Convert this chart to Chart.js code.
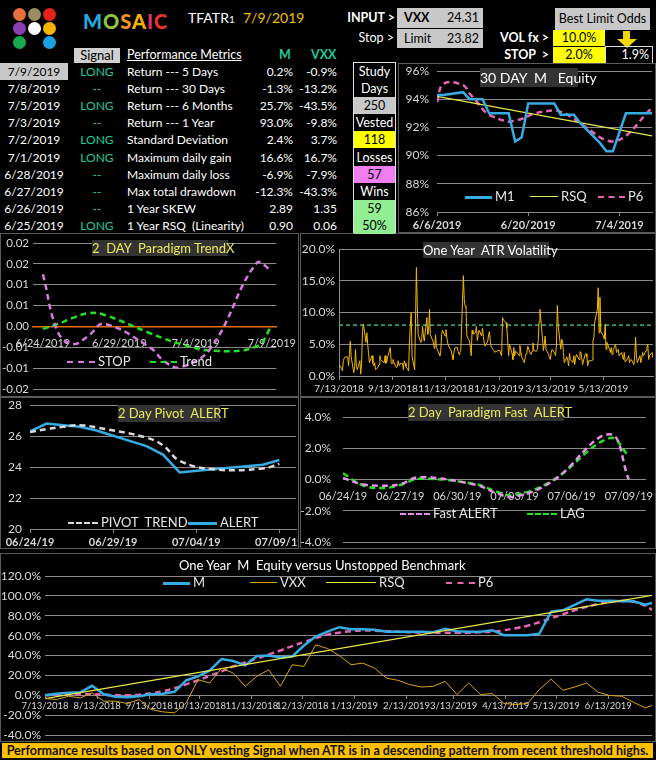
<!DOCTYPE html>
<html lang="en">
<head>
<meta charset="UTF-8">
<title>MOSAIC TFATR1 dashboard</title>
<script src="https://cdn.jsdelivr.net/npm/chart.js"></script>
<style>
  body { margin: 0; background: #000; font-family: Lato, "Open Sans", sans-serif; color: #fff; }
  #page { position: relative; width: 656px; height: 760px; overflow: hidden; background: #000; }
  .a { position: absolute; white-space: pre; line-height: 1; }
  .r { text-align: right; }
  .dot { position: absolute; width: 13px; height: 13px; border-radius: 50%; }
  .box { position: absolute; box-sizing: border-box; font-size: 12.5px; }
  .panel { position: absolute; box-sizing: border-box; border: 1px solid #5a5a5a; background: #000; }
  .title { position: absolute; background: #333; font-size: 13px; text-align: center; white-space: pre; }
  .lg { font-size: 13px; color: #e6e6e6; }
  .cell { font-size: 12px; height: 17px; line-height: 17px; }
</style>
</head>
<body>
<div id="page">
  <!-- logo -->
  <div class="dot" style="left:13px;top:8px;background:#e5703a"></div>
  <div class="dot" style="left:28px;top:8px;background:#9c8e63"></div>
  <div class="dot" style="left:43px;top:8px;background:#e8201c"></div>
  <div class="dot" style="left:13px;top:22px;background:#8b3fb5"></div>
  <div class="dot" style="left:28px;top:22px;background:#ffffff"></div>
  <div class="dot" style="left:43px;top:22px;background:#f4b400"></div>
  <div class="dot" style="left:13px;top:36px;background:#1aa84f"></div>
  <div class="dot" style="left:43px;top:36px;background:#1ba1e2"></div>
  <div class="a" style="left:83px;top:11px;font-size:20px;font-weight:900;letter-spacing:1px"><span style="color:#2aa6df">M</span><span style="color:#8dc63f">O</span><span style="color:#f7941d">S</span><span style="color:#f4b400">A</span><span style="color:#d6336c">I</span><span style="color:#e5322d">C</span></div>
  <div class="a" style="left:188px;top:11px;font-size:14px">TFATR<span style="font-size:10px">1</span></div>
  <div class="a" style="left:243px;top:11px;font-size:14px;color:#f2c200">7/9/2019</div>

  <div class="a r" style="left:330px;width:65px;top:12px;font-size:12.5px;font-weight:bold">INPUT &gt;</div>
  <div class="box" style="left:397px;top:8px;width:86px;height:20px;background:#c8c8c8;color:#000;line-height:20px">
    <span style="position:absolute;left:7px;font-weight:bold">VXX</span><span style="position:absolute;right:4px">24.31</span></div>
  <div class="a r" style="left:330px;width:64px;top:32px;font-size:12.5px">Stop &gt;</div>
  <div class="box" style="left:397px;top:29px;width:86px;height:19px;background:#c8c8c8;color:#000;line-height:19px">
    <span style="position:absolute;left:7px">Limit</span><span style="position:absolute;right:4px">23.82</span></div>

  <div class="box" style="left:555px;top:8px;width:95px;height:22px;background:#c8c8c8;color:#000;line-height:22px;text-align:center">Best Limit Odds</div>
  <div class="a r" style="left:490px;width:59px;top:32px;font-size:12.5px;font-weight:bold">VOL fx &gt;</div>
  <div class="box" style="left:553px;top:30px;width:52px;height:16px;background:#ffff00;color:#000;line-height:16px;text-align:center">10.0%</div>
  <div class="box" style="left:623px;top:31px;width:7px;height:8px;background:#f2d600"></div>
  <div class="box" style="left:617px;top:39px;width:0;height:0;border-left:10px solid transparent;border-right:10px solid transparent;border-top:9px solid #f2d600"></div>
  <div class="a r" style="left:490px;width:59px;top:49px;font-size:12.5px;font-weight:bold">STOP  &gt;</div>
  <div class="box" style="left:553px;top:47px;width:52px;height:16px;background:#ffff00;color:#000;line-height:16px;text-align:center">2.0%</div>
  <div class="box" style="left:605px;top:46px;width:48px;height:18px;border:1px solid #ddd;line-height:16px;text-align:right;padding-right:3px">1.9%</div>

  <!-- table header -->
  <div class="box" style="left:74px;top:48px;width:46px;height:15px;background:#d0d0d0;color:#000;line-height:15px;text-align:center;font-size:13px">Signal</div>
  <div class="a" style="left:127px;top:49px;font-size:12.5px;text-decoration:underline">Performance Metrics</div>
  <div class="a" style="left:279px;top:49px;font-size:12.5px;color:#1fc99a;font-weight:bold">M</div>
  <div class="a" style="left:311px;top:49px;font-size:12.5px;color:#1fc99a;font-weight:bold">VXX</div>
  <div class="box" style="left:353px;top:62px;width:43px;height:171px;border:1px solid #e0e0e0"></div>

  <!-- panels -->
  <div class="panel" style="left:398px;top:63px;width:258px;height:170px"><canvas id="c30"></canvas></div>
  <div class="panel" style="left:0;top:233px;width:299px;height:164px"><canvas id="cTrend"></canvas></div>
  <div class="panel" style="left:300px;top:233px;width:356px;height:164px"><canvas id="cAtr"></canvas></div>
  <div class="panel" style="left:0;top:397px;width:299px;height:152px"><canvas id="cPivot"></canvas></div>
  <div class="panel" style="left:300px;top:397px;width:356px;height:152px"><canvas id="cFast"></canvas></div>
  <div class="panel" style="left:0;top:553px;width:656px;height:189px"><canvas id="cEq"></canvas></div>

  <div class="title" style="left:480px;top:68px;width:98px;height:19px;line-height:19px;font-size:14px">30 DAY  M   Equity</div>
  <div class="title" style="left:92px;top:240px;width:136px;height:16px;line-height:16px;color:#eaea5a">2  DAY  Paradigm TrendX</div>
  <div class="title" style="left:423px;top:242px;width:126px;height:16px;line-height:16px">One Year  ATR Volatility</div>
  <div class="title" style="left:118px;top:405px;width:102px;height:17px;line-height:17px;color:#eaea5a">2 Day Pivot  ALERT</div>
  <div class="title" style="left:408px;top:404px;width:156px;height:17px;line-height:17px;color:#eaea5a">2 Day  Paradigm Fast  ALERT</div>
  <div class="a" style="left:179px;top:559px;font-size:13px">One Year  M  Equity versus Unstopped Benchmark</div>

  <div class="box" style="left:2px;top:743px;width:651px;height:15px;background:#ffc000;color:#111;font-weight:bold;font-size:12.5px;line-height:15px;text-align:center;white-space:nowrap">Performance results based on ONLY vesting Signal when ATR is in a descending pattern from recent threshold highs.</div>
</div>

<script>
  // ---- table ----
  const tblDates = ['7/9/2019', '7/8/2019', '7/5/2019', '7/3/2019', '7/2/2019', '7/1/2019', '6/28/2019', '6/27/2019', '6/26/2019', '6/25/2019'];
  const tblSignal = ['LONG', '--', 'LONG', '--', 'LONG', 'LONG', '--', '--', '--', 'LONG'];
  const metrics = ['Return --- 5 Days', 'Return --- 30 Days', 'Return --- 6 Months', 'Return --- 1 Year', 'Standard Deviation',
    'Maximum daily gain', 'Maximum daily loss', 'Max total drawdown', '1 Year SKEW', '1 Year RSQ  (Linearity)'];
  const metricM = ['0.2%', '-1.3%', '25.7%', '93.0%', '2.4%', '16.6%', '-6.9%', '-12.3%', '2.89', '0.90'];
  const metricVXX = ['-0.9%', '-13.2%', '-43.5%', '-9.8%', '3.7%', '16.7%', '-7.9%', '-43.3%', '1.35', '0.06'];
  const studyCells = ['Study', 'Days', '250', 'Vested', '118', 'Losses', '57', 'Wins', '59', '50%'];
  const studyFill = ['', '', '#c8c8c8', '', '#ffff00', '', '#f07ef0', '', '#92ee92', '#92ee92'];

  // ---- 30 day equity ----
  const dates30 = ['6/6/2019', '6/7/2019', '6/10/2019', '6/11/2019', '6/12/2019', '6/13/2019', '6/14/2019', '6/17/2019',
    '6/18/2019', '6/19/2019', '6/20/2019', '6/21/2019', '6/24/2019', '6/25/2019', '6/26/2019', '6/27/2019', '6/28/2019',
    '7/1/2019', '7/2/2019', '7/3/2019', '7/5/2019', '7/8/2019', '7/9/2019'];
  const m1 = [94.3, 94.3, 94.5, 94.0, 94.0, 94.0, 93.0, 93.0, 91.0, 91.3, 93.7, 93.7, 93.7, 92.9, 92.9, 92.9, 92.3, 90.9, 90.3, 90.3, 93.0, 93.0, 93.0];
  const p6Short = [93.8, 95.1, 95.0, 94.4, 93.9, 93.3, 92.9, 92.4, 92.5, 92.6, 92.8, 93.0, 93.2, 93.1, 92.9, 92.6, 92.3, 91.3, 91.1, 91.0, 91.4, 92.9, 93.4];
  const rsqShort = [94.2, 91.4];
  const ticks30 = ['6/6/2019', '6/20/2019', '7/4/2019'];

  // ---- 2 day charts (shared dates) ----
  const dates2 = ['6/24/2019', '6/25/2019', '6/26/2019', '6/27/2019', '6/28/2019', '7/1/2019', '7/2/2019', '7/3/2019', '7/5/2019', '7/8/2019', '7/9/2019'];
  const stopX = [0.0125, -0.0015, -0.0042, -0.0022, 0.0006, -0.0050, -0.0085, -0.0098, -0.0052, 0.0152, 0.0133];
  const trendX = [-0.0006, 0.0006, 0.0021, 0.0032, 0.0028, -0.0016, -0.0030, -0.0042, -0.0058, -0.0048, 0.0002];
  const ticksTrend = ['6/24/2019', '6/29/2019', '7/4/2019', '7/9/2019'];
  const pivotTrend = [26.25, 26.45, 26.6, 26.7, 26.55, 25.9, 25.4, 24.4, 23.85, 23.9, 24.2];
  const pivotAlert = [26.3, 26.8, 26.7, 26.6, 26.35, 25.35, 24.8, 23.65, 23.85, 24.15, 24.45];
  const ticksPivot = ['6/24/2019', '6/29/2019', '7/4/2019', '7/9/2019'];
  const fastAlert = [0.1, -0.3, -0.4, -0.3, 0.15, -0.35, -0.85, -1.1, -0.1, 2.9, 0.0];
  const fastLag = [0.4, -0.35, -0.55, -0.35, 0.05, -0.3, -0.75, -1.0, -0.05, 2.65, 1.5];
  const ticksFast = ['6/24/2019', '6/27/2019', '6/30/2019', '7/3/2019', '7/6/2019', '7/9/2019'];

  // ---- one year ATR volatility (one value per weekday from 7/13/2018) ----
  const atrStart = '7/13/2018';
  const atrVals = [
    1.8, 1.2, 0.8, 2.4, 2.8, 3.0, 3.0, 1.6, 3.5, 5.5, 3.0, 0.5, 1.5, 4.2, 1.5, 1.0, 2.4, 0.3, 2.0, 7.0,
    8.2, 5.3, 6.8, 5.0, 3.5, 2.1, 3.2, 2.0, 1.6, 2.1, 1.0, 1.4, 1.8, 3.2, 2.6, 2.4, 2.1, 3.2, 2.0, 2.2,
    3.0, 4.5, 2.0, 2.0, 2.6, 2.2, 1.3, 1.5, 2.4, 1.7, 1.9, 2.0, 1.0, 2.4, 2.0, 1.5, 0.8, 5.5, 8.0, 10.0,
    3.0, 1.0, 9.0, 17.1, 11.0, 6.5, 5.3, 5.5, 7.8, 6.5, 5.5, 9.2, 6.5, 7.0, 10.5, 6.5, 5.5, 4.8, 4.3, 6.5,
    4.5, 3.5, 3.2, 4.0, 6.5, 7.2, 6.3, 7.3, 6.0, 5.2, 4.7, 4.0, 3.3, 2.6, 3.6, 4.4, 4.5, 3.9, 3.4, 3.7,
    3.9, 15.8, 12.0, 11.0, 10.8, 6.3, 5.5, 4.5, 3.2, 7.2, 6.6, 6.8, 7.8, 5.6, 6.5, 7.2, 6.3, 7.5, 6.2, 5.2,
    4.7, 5.5, 6.5, 7.0, 5.4, 4.6, 4.0, 3.7, 3.9, 3.8, 4.0, 4.0, 3.4, 3.2, 9.2, 8.8, 8.4, 7.5, 5.5, 3.2,
    5.0, 3.5, 2.6, 4.5, 3.2, 3.9, 3.5, 3.2, 4.8, 3.8, 3.0, 2.1, 2.9, 3.5, 3.7, 4.7, 3.5, 3.4, 3.9, 5.2,
    4.0, 3.9, 4.2, 5.4, 8.5, 10.5, 5.8, 4.0, 5.0, 6.3, 4.2, 3.4, 2.8, 2.6, 3.7, 4.2, 3.6, 3.2, 5.0, 11.1,
    8.0, 4.2, 5.8, 5.5, 3.7, 2.1, 3.0, 2.4, 1.6, 3.6, 2.6, 2.1, 3.2, 1.8, 2.8, 3.4, 2.6, 3.8, 3.8, 2.9,
    1.8, 3.4, 3.5, 3.0, 1.6, 2.4, 2.4, 2.5, 5.5, 6.1, 8.5, 10.5, 13.9, 6.8, 12.4, 7.0, 6.3, 5.8, 8.2, 4.2,
    5.3, 4.2, 3.7, 4.5, 3.4, 4.0, 5.0, 3.7, 4.0, 4.2, 3.2, 3.7, 3.0, 2.6, 3.7, 2.2, 2.8, 3.2, 2.1, 2.5,
    2.6, 1.8, 3.2, 6.1, 3.0, 2.1, 3.2, 2.1, 2.8, 3.7, 3.2, 4.0, 4.5, 5.0, 2.6, 3.2, 3.7, 2.8];
  const atrThreshold = 8.0;
  const atrEnd = '7/9/2019';
  const ticksAtr = ['7/13/2018', '9/13/2018', '11/13/2018', '1/13/2019', '3/13/2019', '5/13/2019'];

  // ---- one year equity vs benchmark (weekly Fridays from 7/13/2018, last point 7/9/2019) ----
  const eqStart = '7/13/2018';
  const eqLast = '7/9/2019';
  const eqM = [0, 1.5, 2.5, 3.0, 9.5, 1.0, -1.5, -2.0, -1.0, 1.0, 1.5, 3.5, 15, 19, 25, 36.5, 34.5, 30, 39.5, 40,
    38, 39, 50, 59, 64, 68.5, 66.5, 66.5, 66, 64, 64, 64, 64, 63.5, 67, 64.5, 64, 64, 65.5, 60.5,
    60.5, 60.5, 62, 84, 85.5, 91, 96.5, 95, 95, 94.5, 94.5, 91, 93];
  const eqVXX = [-3.3, -4.3, -1.0, -2.7, 2.3, -6.0, -6.0, -8.3, -4.3, -14.3, -16.7, -17.7, -7.7, 15.7, 12.3, 27.3, 22.3, 9.0, 19.0, 25.7,
    9.0, 30.7, 29.0, 50.7, 47.0, 40.0, 30.7, 32.3, 27.3, 17.3, 15.0, 10.7, 8.3, 9.0, 14.0, 0.7, 12.3, 0.7, 1.7, -8.3,
    -9.3, -8.3, 5.7, 16.3, 5.0, 8.3, 12.3, 3.0, -0.3, -1.0, -7.0, -12.7, -10.3];
  const eqP6 = [0, 0.5, 1, 1, 1, 0.5, 0, 0, 0.5, 2, 4, 7, 11, 15, 19.5, 24, 29, 33, 37, 41,
    45, 49.5, 53.5, 57.5, 61, 63, 64.5, 65, 65, 64.5, 64, 63.5, 63, 63, 63, 63, 63, 63.5, 64, 65.5,
    67.5, 70, 73.5, 77.5, 81.5, 85.5, 89, 92, 94, 95, 94, 90, 86];
  const eqRsq = [-3.5, 100.5];
  const ticksEq = ['7/13/2018', '8/13/2018', '9/13/2018', '10/13/2018', '11/13/2018', '12/13/2018',
    '1/13/2019', '2/13/2019', '3/13/2019', '4/13/2019', '5/13/2019', '6/13/2019'];

  // ---- build table ----
  const page = document.getElementById('page');
  const rowTop = i => 63 + i * 17.1;
  tblDates.forEach((d, i) => {
    const top = rowTop(i);
    const first = i === 0 ? 'background:#c8c8c8;color:#000;' : '';
    page.insertAdjacentHTML('beforeend',
      `<div class="a cell" style="left:0;top:${top}px;width:68px;text-align:center;${first}">${d}</div>` +
      `<div class="a cell" style="left:74px;top:${top}px;width:46px;text-align:center;color:#1fc99a">${tblSignal[i]}</div>` +
      `<div class="a cell" style="left:127px;top:${top}px">${metrics[i]}</div>` +
      `<div class="a cell" style="left:240px;top:${top}px;width:53px;text-align:right">${metricM[i]}</div>` +
      `<div class="a cell" style="left:290px;top:${top}px;width:47px;text-align:right">${metricVXX[i]}</div>` +
      `<div class="a cell" style="left:354px;top:${top}px;width:41px;text-align:center;font-size:12.5px;${studyFill[i] ? 'background:' + studyFill[i] + ';color:#000;' : ''}">${studyCells[i]}</div>`);
  });

  // ---- legends ----
  function legend(x, y, w, color, lw, dash, label) {
    page.insertAdjacentHTML('beforeend',
      `<div class="a" style="left:${x}px;top:${y - lw / 2}px;width:${w}px;height:0;border-top:${lw}px ${dash ? 'dashed' : 'solid'} ${color}"></div>` +
      `<div class="a lg" style="left:${x + w + 3}px;top:${y - 7}px">${label}</div>`);
  }

  // ---- chart helpers ----
  const BLUE = '#35ace4', PINK = '#e565b4', YEL = '#e8e84a', GOLD = '#d9a514', GREEN = '#22e022', GRID = '#8a8a8a';
  const dayNum = s => { const [m, d, y] = s.split('/').map(Number); return Date.UTC(y, m - 1, d) / 864e5; };
  const pts = (dates, vals) => vals.map((v, i) => ({ x: dayNum(dates[i]) - dayNum(dates[0]), y: v }));
  function weekdayPts(start, vals) {
    const out = []; const t0 = dayNum(start); let t = t0;
    for (const v of vals) {
      while ([0, 6].includes(new Date(t * 864e5).getUTCDay())) t++;
      out.push({ x: t - t0, y: v }); t++;
    }
    return out;
  }
  const fitX = h => s => { s.height = h; s.paddingLeft = 0; s.paddingRight = 0; };
  const fitY = w => s => { s.width = w; s.paddingTop = 0; s.paddingBottom = 0; };
  const dateTicks = (labels, base) => axis => { axis.ticks = labels.map(l => ({ value: dayNum(l) - dayNum(base) })); };
  const shortDate = s => { const [m, d, y] = s.split('/'); return m.padStart(2, '0') + '/' + d.padStart(2, '0') + '/' + y.slice(2); };

  Chart.defaults.font.family = 'Lato, "Open Sans", sans-serif';
  Chart.defaults.font.size = 11;
  Chart.defaults.color = '#d9d9d9';
  Chart.defaults.animation = false;
  Chart.defaults.maintainAspectRatio = false;
  Chart.defaults.plugins.legend.display = false;
  Chart.defaults.plugins.tooltip.enabled = false;
  Chart.defaults.elements.point.radius = 0;

  // 30 day equity
  new Chart(document.getElementById('c30'), {
    type: 'line',
    data: { datasets: [
      { data: pts(dates30, m1), borderColor: BLUE, borderWidth: 2.5 },
      { data: [{ x: 0, y: rsqShort[0] }, { x: dayNum(dates30.at(-1)) - dayNum(dates30[0]), y: rsqShort[1] }], borderColor: YEL, borderWidth: 1.2 },
      { data: pts(dates30, p6Short), borderColor: PINK, borderWidth: 2.5, borderDash: [6, 4], tension: 0.4 }
    ] },
    options: {
      layout: { padding: { top: 7, right: 3, left: 0, bottom: 0 } },
      scales: {
        x: { type: 'linear', min: 0, max: 33, afterBuildTicks: dateTicks(ticks30, dates30[0]), afterFit: fitX(20),
          ticks: { callback: (v, i) => ticks30[i], autoSkip: false, maxRotation: 0, font: { weight: 'bold' } },
          grid: { drawOnChartArea: false, color: GRID, tickLength: 4 }, border: { color: GRID } },
        y: { min: 86, max: 96, afterFit: fitY(38),
          ticks: { stepSize: 2, callback: v => v + '%', padding: 8, font: { size: 12 } },
          grid: { color: GRID, drawTicks: false }, border: { display: false } }
      }
    }
  });
  legend(465, 197, 27, BLUE, 3, false, 'M1');
  legend(530, 197, 28, YEL, 1.5, false, 'RSQ');
  legend(598, 197, 27, PINK, 2.5, true, 'P6');

  // 2 day paradigm trendX
  const round2 = v => (Math.sign(v) * Math.round(Math.abs(v) * 100 + 1e-9) / 100).toFixed(2);
  new Chart(document.getElementById('cTrend'), {
    type: 'line',
    data: { datasets: [
      { data: pts(dates2, stopX), borderColor: '#d77ae0', borderWidth: 2.5, borderDash: [6, 4], tension: 0.4 },
      { data: pts(dates2, trendX), borderColor: GREEN, borderWidth: 2.5, borderDash: [6, 4], tension: 0.4 }
    ] },
    options: {
      layout: { padding: { top: 9, right: 4, left: 0, bottom: 7 } },
      scales: {
        x: { type: 'linear', min: -0.65, max: 15.3, position: { y: 0 }, afterBuildTicks: dateTicks(ticksTrend, dates2[0]),
          ticks: { callback: (v, i) => ticksTrend[i], autoSkip: false, maxRotation: 0, padding: 2, font: { size: 11 } },
          grid: { drawOnChartArea: false, display: false }, border: { color: '#e46c0a', width: 1.5 } },
        y: { min: -0.015, max: 0.02, afterFit: fitY(32),
          ticks: { stepSize: 0.005, callback: v => round2(v), padding: 4, font: { size: 11.5 } },
          grid: { color: c => Math.abs(c.tick.value) < 1e-9 ? '#e46c0a' : GRID, drawTicks: false }, border: { display: false } }
      }
    }
  });
  legend(67, 362, 28, '#d77ae0', 2.5, true, 'STOP');
  legend(150, 362, 27, GREEN, 2.5, true, 'Trend');

  // one year ATR volatility
  const atrPts = weekdayPts(atrStart, atrVals);
  const atrMax = dayNum(atrEnd) - dayNum(atrStart);
  new Chart(document.getElementById('cAtr'), {
    type: 'line',
    data: { datasets: [
      { data: atrPts, borderColor: '#f2b705', borderWidth: 1, borderJoinStyle: 'round' },
      { data: [{ x: 0, y: atrThreshold }, { x: atrMax, y: atrThreshold }], borderColor: '#3fd8a8', borderWidth: 1.2, borderDash: [4, 3] }
    ] },
    options: {
      layout: { padding: { top: 15, right: 2, left: 0, bottom: 0 } },
      scales: {
        x: { type: 'linear', min: 0, max: atrMax, afterBuildTicks: dateTicks(ticksAtr, atrStart), afterFit: fitX(20),
          ticks: { callback: (v, i) => ticksAtr[i], autoSkip: false, maxRotation: 0, font: { size: 10 } },
          grid: { drawOnChartArea: false, color: GRID, tickLength: 4 }, border: { color: GRID } },
        y: { min: 0, max: 20, afterFit: fitY(38),
          ticks: { stepSize: 5, callback: v => v.toFixed(1) + '%', padding: 4, font: { size: 12 } },
          grid: { color: GRID, drawTicks: false }, border: { color: GRID } }
      }
    }
  });

  // 2 day pivot alert
  new Chart(document.getElementById('cPivot'), {
    type: 'line',
    data: { datasets: [
      { data: pts(dates2, pivotTrend), borderColor: '#d9d9d9', borderWidth: 2.5, borderDash: [6, 4], tension: 0.4 },
      { data: pts(dates2, pivotAlert), borderColor: BLUE, borderWidth: 2.5 }
    ] },
    options: {
      layout: { padding: { top: 7, right: 2, left: 0, bottom: 0 } },
      scales: {
        x: { type: 'linear', min: 0, max: 16, afterBuildTicks: dateTicks(ticksPivot, dates2[0]), afterFit: fitX(19),
          ticks: { callback: (v, i) => shortDate(ticksPivot[i]), autoSkip: false, maxRotation: 0, font: { weight: 'bold' } },
          grid: { drawOnChartArea: false, color: GRID, tickLength: 4 }, border: { color: GRID } },
        y: { min: 20, max: 28, afterFit: fitY(29),
          ticks: { stepSize: 2, padding: 8, font: { size: 12 } },
          grid: { color: GRID, drawTicks: false }, border: { display: false } }
      }
    }
  });
  legend(68, 523, 30, '#d9d9d9', 2.5, true, 'PIVOT  TREND');
  legend(188, 523, 29, BLUE, 3, false, 'ALERT');

  // 2 day paradigm fast alert
  new Chart(document.getElementById('cFast'), {
    type: 'line',
    data: { datasets: [
      { data: pts(dates2, fastAlert), borderColor: '#e591e8', borderWidth: 2.5, borderDash: [6, 4], tension: 0.4 },
      { data: pts(dates2, fastLag), borderColor: GREEN, borderWidth: 2.5, borderDash: [6, 4], tension: 0.4 }
    ] },
    options: {
      layout: { padding: { top: 19, right: 2, left: 0, bottom: 6 } },
      scales: {
        x: { type: 'linear', min: 0, max: 15.9, position: { y: 0 }, afterBuildTicks: dateTicks(ticksFast, dates2[0]),
          ticks: { callback: (v, i) => shortDate(ticksFast[i]), autoSkip: false, maxRotation: 0, padding: 2 },
          grid: { display: false }, border: { color: GRID } },
        y: { min: -4, max: 4, afterFit: fitY(42),
          ticks: { stepSize: 2, callback: v => v.toFixed(1) + '%', padding: 12, font: { size: 12 } },
          grid: { color: GRID, drawTicks: false }, border: { display: false } }
      }
    }
  });
  legend(400, 514, 30, '#e591e8', 2.5, true, 'Fast ALERT');
  legend(527, 514, 30, GREEN, 2.5, true, 'LAG');

  // one year equity vs unstopped benchmark
  const eqEnd = dayNum(eqLast) - dayNum(eqStart);
  const eqX = eqM.map((_, i) => i < eqM.length - 1 ? 7 * i : eqEnd);
  const eqPts = vals => vals.map((v, i) => ({ x: eqX[i], y: v }));
  new Chart(document.getElementById('cEq'), {
    type: 'line',
    data: { datasets: [
      { data: eqPts(eqVXX), borderColor: GOLD, borderWidth: 1 },
      { data: [{ x: 0, y: eqRsq[0] }, { x: eqEnd, y: eqRsq[1] }], borderColor: YEL, borderWidth: 1.2 },
      { data: eqPts(eqM), borderColor: BLUE, borderWidth: 2.5 },
      { data: eqPts(eqP6), borderColor: PINK, borderWidth: 2.5, borderDash: [6, 4], tension: 0.4 }
    ] },
    options: {
      layout: { padding: { top: 22, right: 3, left: 0, bottom: 6 } },
      scales: {
        x: { type: 'linear', min: 0, max: eqEnd, position: { y: 0 }, afterBuildTicks: dateTicks(ticksEq, eqStart),
          ticks: { callback: (v, i) => ticksEq[i], autoSkip: false, maxRotation: 0, padding: 2, font: { size: 9.5 } },
          grid: { drawOnChartArea: false, color: GRID, tickLength: 3 }, border: { color: GRID } },
        y: { min: -40, max: 120, afterFit: fitY(44),
          ticks: { stepSize: 20, callback: v => v.toFixed(1) + '%', padding: 4, font: { size: 12 } },
          grid: { color: GRID, drawTicks: false }, border: { display: false } }
      }
    }
  });
  legend(163, 583, 27, BLUE, 3, false, 'M');
  legend(250, 583, 27, GOLD, 1.5, false, 'VXX');
  legend(326, 583, 50, YEL, 1.5, false, 'RSQ');
  legend(446, 583, 29, PINK, 2.5, true, 'P6');
</script>
</body>
</html>
